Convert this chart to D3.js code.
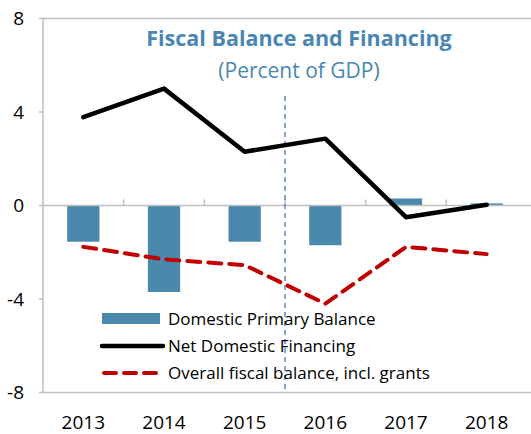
<!DOCTYPE html>
<meta charset="utf-8">
<style>
  body { margin: 0; background: #fff; }
  text { font-family: "Open Sans", "Noto Sans", sans-serif; }
  .frame { fill: none; stroke: #bfbfbf; stroke-width: 1.5px; }
</style>
<body>
<svg id="chart" width="531" height="434"></svg>
<script src="https://d3js.org/d3.v7.min.js"></script>
<script>
// data
var years = ["2013", "2014", "2015", "2016", "2017", "2018"];
var primaryBalance = [-1.55, -3.7, -1.55, -1.7, 0.3, 0.09];
var netFinancing = [3.78, 5.0, 2.3, 2.86, -0.5, 0.03];
var overallBalance = [-1.77, -2.3, -2.55, -4.2, -1.77, -2.08];
var yTicks = [-8, -4, 0, 4, 8];
var legendLabels = ["Domestic Primary Balance", "Net Domestic Financing", "Overall fiscal balance, incl. grants"];

var svg = d3.select("#chart");

var plotLeft = 43, plotRight = 527, plotTop = 18.5, plotBottom = 392.5;

var x = d3.scaleBand()
    .domain(years)
    .range([plotLeft, plotRight])
    .paddingInner(0.6)
    .paddingOuter(0.3);

var y = d3.scaleLinear()
    .domain([-8, 8])
    .range([plotBottom, plotTop]);

var cx = function(d, i) { return x(years[i]) + x.bandwidth() / 2; };

// frame: left, top, bottom (open on the right)
svg.append("path")
    .attr("class", "frame")
    .attr("d", "M531," + plotTop + "H" + plotLeft + "V" + plotBottom + "H531");

// y axis ticks + labels
svg.selectAll(".ytick")
    .data(yTicks)
  .enter().append("line")
    .attr("x1", plotLeft - 4).attr("x2", plotLeft)
    .attr("y1", function(d) { return y(d); })
    .attr("y2", function(d) { return y(d); })
    .attr("stroke", "#bfbfbf").attr("stroke-width", 1.5);

svg.selectAll(".ylab")
    .data(yTicks)
  .enter().append("text")
    .attr("x", 24)
    .attr("y", function(d) { return y(d); })
    .attr("dy", "0.36em")
    .attr("text-anchor", "end")
    .attr("font-size", 19)
    .attr("fill", "#000")
    .text(function(d) { return d; });

// bars
svg.selectAll(".bar")
    .data(primaryBalance)
  .enter().append("rect")
    .attr("x", function(d, i) { return x(years[i]); })
    .attr("width", x.bandwidth())
    .attr("y", function(d) { return y(Math.max(0, d)); })
    .attr("height", function(d) { return Math.abs(y(d) - y(0)); })
    .attr("fill", "#4a89ac");

// zero line with category ticks
svg.append("line")
    .attr("x1", plotLeft).attr("x2", 531)
    .attr("y1", y(0)).attr("y2", y(0))
    .attr("stroke", "#bfbfbf").attr("stroke-width", 1.5);

var bounds = years.slice(1).map(function(d) { return x(d) - x.step() * x.paddingInner() / 2; });
svg.selectAll(".xtick")
    .data(bounds)
  .enter().append("line")
    .attr("x1", function(d) { return d; })
    .attr("x2", function(d) { return d; })
    .attr("y1", y(0) - 6).attr("y2", y(0))
    .attr("stroke", "#bfbfbf").attr("stroke-width", 1.5);

// x labels
svg.selectAll(".xlab")
    .data(years)
  .enter().append("text")
    .attr("x", function(d) { return x(d) + x.bandwidth() / 2; })
    .attr("y", 429)
    .attr("text-anchor", "middle")
    .attr("font-size", 19)
    .attr("fill", "#000")
    .text(function(d) { return d; });

// projection divider
svg.append("line")
    .attr("x1", bounds[2]).attr("x2", bounds[2])
    .attr("y1", 96).attr("y2", plotBottom)
    .attr("stroke", "#4472c4")
    .attr("stroke-width", 1.3)
    .attr("stroke-dasharray", "5,4");

var line = d3.line()
    .x(cx)
    .y(function(d) { return y(d); });

svg.append("path")
    .datum(netFinancing)
    .attr("d", line)
    .attr("fill", "none")
    .attr("stroke", "#000")
    .attr("stroke-width", 4.5)
    .attr("stroke-linecap", "round")
    .attr("stroke-linejoin", "round");

svg.append("path")
    .datum(overallBalance)
    .attr("d", line)
    .attr("fill", "none")
    .attr("stroke", "#c00000")
    .attr("stroke-width", 4)
    .attr("stroke-dasharray", "13,8")
    .attr("stroke-linecap", "round");

// title
svg.append("text")
    .attr("x", 299).attr("y", 46)
    .attr("text-anchor", "middle")
    .attr("font-size", 21.5)
    .attr("font-weight", "bold")
    .attr("fill", "#4a86b4")
    .text("Fiscal Balance and Financing");

svg.append("text")
    .attr("x", 299).attr("y", 78)
    .attr("text-anchor", "middle")
    .attr("font-size", 21)
    .attr("fill", "#4a86b4")
    .text("(Percent of GDP)");

// legend
var legend = svg.append("g").attr("transform", "translate(102,319)");
var rowH = 27;

legend.append("rect")
    .attr("x", 0).attr("y", -6)
    .attr("width", 58).attr("height", 11)
    .attr("fill", "#4a89ac");

legend.append("line")
    .attr("x1", 0).attr("x2", 61)
    .attr("y1", rowH).attr("y2", rowH)
    .attr("stroke", "#000").attr("stroke-width", 4.5)
    .attr("stroke-linecap", "round");

legend.append("line")
    .attr("x1", 2).attr("x2", 58)
    .attr("y1", rowH * 2).attr("y2", rowH * 2)
    .attr("stroke", "#c00000").attr("stroke-width", 4)
    .attr("stroke-dasharray", "12,8")
    .attr("stroke-linecap", "round");

legend.selectAll(".ltext")
    .data(legendLabels)
  .enter().append("text")
    .attr("x", 66)
    .attr("y", function(d, i) { return i * rowH; })
    .attr("dy", "0.35em")
    .attr("font-size", 17)
    .attr("fill", "#000")
    .text(function(d) { return d; });
</script>
</body>
